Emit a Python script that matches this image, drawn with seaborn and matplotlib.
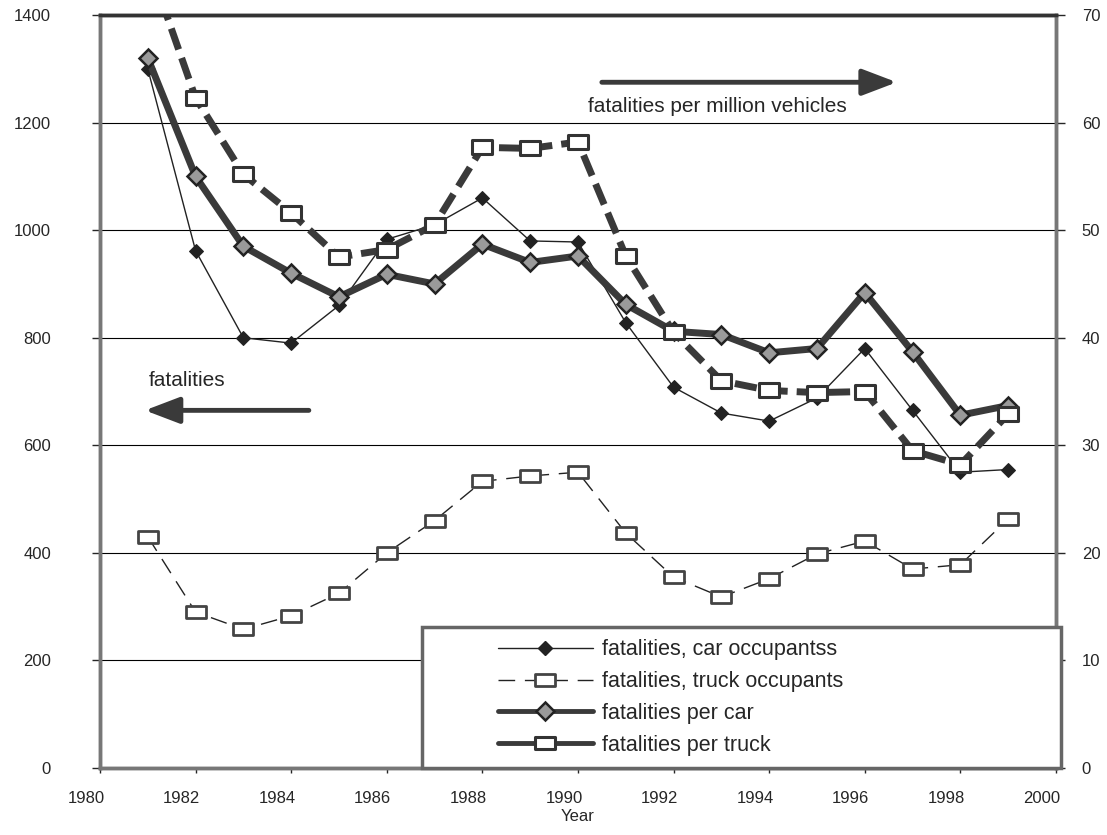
#!/usr/bin/env python3
import pandas as pd
import seaborn as sns
import matplotlib.pyplot as plt
from matplotlib.lines import Line2D
from matplotlib.patches import Rectangle
from matplotlib.path import Path
from matplotlib.transforms import ScaledTranslation

# data
years = list(range(1981, 2000))
car_occupants = [1300, 962, 800, 790, 860, 983, 1010, 1060, 980, 978,
                 828, 708, 660, 645, 688, 780, 665, 550, 555]
truck_occupants = [430, 290, 258, 283, 325, 400, 460, 533, 543, 550,
                   437, 355, 318, 352, 398, 422, 370, 378, 463]
per_car = [66.0, 55.0, 48.5, 46.0, 43.8, 45.9, 45.0, 48.7, 47.0, 47.6,
           43.1, 40.6, 40.3, 38.6, 39.0, 44.2, 38.7, 32.8, 33.7]
per_truck = [75.0, 62.3, 55.2, 51.6, 47.5, 48.2, 50.5, 57.7, 57.6, 58.2,
             47.6, 40.5, 36.0, 35.1, 34.9, 35.0, 29.5, 28.2, 32.9]
labels = ['fatalities, car occupantss', 'fatalities, truck occupants',
          'fatalities per car', 'fatalities per truck']

df = pd.DataFrame({'Year': years, 'car': car_occupants, 'truck': truck_occupants,
                   'per_car': per_car, 'per_truck': per_truck})

sns.set_style('white')
plt.rcParams['font.family'] = ['Liberation Sans', 'DejaVu Sans']

# wide box marker like the scanned original
rect = Path([(-1.5, -1), (1.5, -1), (1.5, 1), (-1.5, 1), (-1.5, -1)],
            [Path.MOVETO, Path.LINETO, Path.LINETO, Path.LINETO, Path.CLOSEPOLY])

fig = plt.figure(figsize=(11.07, 8.35), dpi=100)
ax = fig.add_axes([0.0903, 0.0802, 0.8636, 0.9018])
ax2 = ax.twinx()

dark = '#222222'
thick = '#3a3a3a'
thin_dash = (0, (12, 7))
thick_dash = (0, (3.2, 1.3))

# left axis: fatalities
sns.lineplot(data=df, x='Year', y='car', ax=ax, color=dark, lw=1,
             marker='D', markersize=7.5, markerfacecolor=dark, markeredgecolor=dark)
sns.lineplot(data=df, x='Year', y='truck', ax=ax, color=dark, lw=1,
             linestyle=thin_dash, marker=rect, markersize=14,
             markerfacecolor='white', markeredgecolor='#444', markeredgewidth=2)

# right axis: fatalities per million vehicles
sns.lineplot(data=df, x='Year', y='per_car', ax=ax2, color=thick, lw=5,
             marker='D', markersize=9.5, markerfacecolor='#9a9a9a',
             markeredgecolor=dark, markeredgewidth=1.8)
sns.lineplot(data=df, x='Year', y='per_truck', ax=ax2, color=thick, lw=5,
             linestyle=thick_dash, marker=rect, markersize=15,
             markerfacecolor='white', markeredgecolor='#333', markeredgewidth=2.2)

ax.set_xlim(1980, 2000)
ax.set_ylim(0, 1400)
ax2.set_ylim(0, 70)
ax.set_xticks(range(1980, 2001, 2))
ax.set_yticks(range(0, 1401, 200))
ax2.set_yticks(range(0, 71, 10))
ax.yaxis.grid(True, color='black', lw=0.8)
ax.set_axisbelow(True)
ax.set_xlabel('Year', fontsize=12, labelpad=2)
ax.set_ylabel('')
ax2.set_ylabel('')
ax.tick_params(axis='x', labelsize=12, direction='out', length=3.6, width=1,
               bottom=True, pad=13)
ax.tick_params(axis='y', labelsize=12, direction='out', length=5.8, width=1,
               left=True, pad=29.5)
ax2.tick_params(axis='y', labelsize=12, direction='out', length=6.5, width=1,
                right=True, pad=12)

# year labels sit a little left of their ticks in the original
shift = ScaledTranslation(-14 / 100, 0, fig.dpi_scale_trans)
for lab in ax.get_xticklabels():
    lab.set_transform(lab.get_transform() + shift)

for a in (ax, ax2):
    for name, s in a.spines.items():
        s.set_color('#333333' if name == 'top' else '#777777')
        s.set_linewidth(2.5)

# arrows and captions
arrow = dict(arrowstyle='-|>,head_length=2.1,head_width=0.8', mutation_scale=10,
             color='#3a3a3a', lw=3.5, shrinkA=0, shrinkB=0)
ax.annotate('', xy=(1996.67, 1275), xytext=(1990.5, 1275), arrowprops=arrow)
ax.text(1990.2, 1230, 'fatalities per million vehicles', fontsize=15,
        ha='left', va='center')
ax.annotate('', xy=(1980.94, 665), xytext=(1984.37, 665), arrowprops=arrow)
ax.text(1981.03, 721, 'fatalities', fontsize=15, ha='left', va='center')

# legend box
box = Rectangle((0.337, 0.0), 0.668, 0.187, transform=ax2.transAxes,
                facecolor='white', edgecolor='#666666', lw=2.5,
                clip_on=False, zorder=5)
ax2.add_patch(box)

handles = [
    Line2D([], [], color=dark, lw=1, marker='D', markersize=7, markerfacecolor=dark),
    Line2D([], [], color=dark, lw=1, linestyle=thin_dash, marker=rect, markersize=14,
           markerfacecolor='white', markeredgecolor='#444', markeredgewidth=2),
    Line2D([], [], color=thick, lw=3.5, marker='D', markersize=9.5,
           markerfacecolor='#9a9a9a', markeredgecolor=dark, markeredgewidth=1.8),
    Line2D([], [], color=thick, lw=3.5, marker=rect, markersize=14,
           markerfacecolor='white', markeredgecolor='#333', markeredgewidth=2.2),
]
leg = ax2.legend(handles, labels, loc='center left', bbox_to_anchor=(0.4163, 0.0936),
                 fontsize=15.5, handlelength=4.4, handletextpad=0.45,
                 labelspacing=0.5, borderpad=0, borderaxespad=0, frameon=False)
leg.set_zorder(10)

plt.savefig('out.png', dpi=100)
plt.close()
